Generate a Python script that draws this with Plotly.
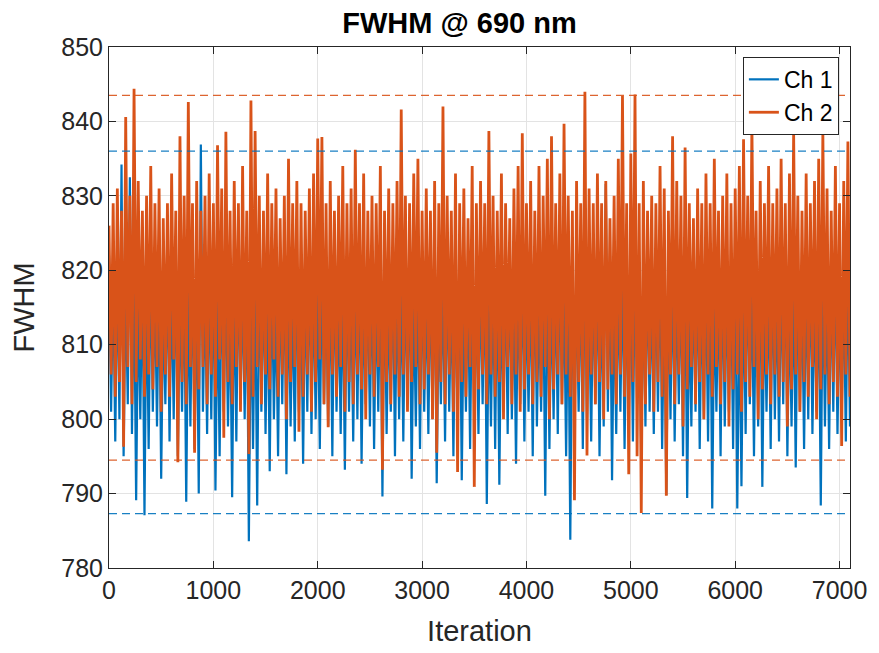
import plotly.graph_objects as go

# ---------------- data ----------------
iter_step = 20          # iterations between consecutive plotted samples
x_max = 7100

# Ch 2 (orange): local maxima (at 0, 40, 80, ...) and local minima (at 20, 60, ...)
ch2_peaks = [
    826, 829, 831, 828, 840.6, 830, 844.4, 832, 828, 830,
    834, 829, 831, 827, 829, 833, 828, 838, 830, 842.6,
    829, 832, 828, 830, 833, 829, 836.8, 831, 838.6, 828,
    832, 829, 834, 828, 842.8, 838.7, 830, 828, 833, 829,
    831, 827, 830, 835, 829, 832, 829, 828, 831, 833,
    837.7, 837.9, 829, 832, 828, 830, 834, 829, 831, 836.2,
    829, 833, 828, 830, 829, 834, 828, 831, 829, 832,
    841.6, 830, 829, 833, 835, 828, 831, 828, 832, 829,
    842, 830, 828, 833, 829, 831, 827, 834, 829, 832,
    829, 838.7, 830, 828, 833, 829, 827, 831, 834, 838.4,
    829, 832, 828, 834, 830, 835, 838, 829, 833, 839.7,
    830, 828, 832, 829, 844, 831, 829, 833, 829, 832,
    827, 830, 835, 843.4, 829, 835.7, 843.6, 829, 832, 828,
    830, 829, 834, 831, 828, 838, 832, 830, 836.5, 829,
    827, 831, 829, 833, 829, 835, 828, 830, 833, 829,
    831, 834, 837.6, 830, 839.9, 828, 832, 829, 834, 829,
    831, 835, 829, 833, 838.5, 830, 828, 833, 829, 832,
    835, 838.5, 831, 828, 834, 829, 832, 837.3,
]
ch2_troughs = [
    806, 803, 805, 796.3, 807, 802, 805, 808, 803, 806,
    804, 807, 801, 806, 803, 808, 794.2, 805, 802, 807,
    795.5, 804, 807, 802, 806, 803, 808, 797.5, 805, 802,
    807, 801, 805, 795.3, 803, 807, 802, 806, 804, 808,
    803, 806, 800, 805, 807, 798.3, 803, 806, 801, 805,
    808, 802, 798.9, 806, 803, 807, 801, 805, 802, 806,
    804, 800, 806, 803, 807, 793.2, 805, 802, 806, 803,
    806, 801, 805, 807, 802, 804, 806, 800, 795.5, 805,
    802, 806, 801, 792.9, 805, 803, 807, 790.9, 804, 806,
    802, 806, 803, 805, 800, 807, 802, 806, 801, 804,
    806, 802, 805, 803, 807, 800, 804, 806, 802, 806,
    803, 789.1, 805, 801, 795.1, 806, 802, 805, 800, 804,
    806, 802, 806, 803, 792.6, 805, 795, 787.4, 802, 806,
    801, 805, 803, 789.7, 806, 802, 806, 799, 804, 807,
    802, 805, 800, 806, 803, 807, 802, 805, 799, 804,
    806, 801, 805, 803, 807, 800, 804, 806, 802, 806,
    803, 805, 799, 804, 806, 801, 805, 803, 807, 800,
    804, 806, 802, 805, 803, 796.4, 806, 803,
]

# Ch 1 (blue)
ch1_peaks = [
    822, 819, 821, 834.2, 818, 832.5, 820, 817, 821, 819,
    822, 818, 820, 816, 821, 819, 822, 817, 820, 818,
    821, 819, 836.9, 818, 820, 822, 817, 821, 819, 816,
    820, 822, 818, 821, 817, 819, 822, 820, 818, 821,
    816, 820, 822, 819, 817, 821, 818, 820, 822, 819,
    817, 821, 818, 820, 822, 816, 819, 821, 818, 820,
    822, 817, 819, 821, 818, 820, 822, 816, 821, 819,
    818, 820, 822, 817, 819, 821, 818, 820, 822, 816,
    819, 821, 818, 820, 822, 817, 819, 821, 818, 820,
    822, 816, 819, 821, 818, 820, 822, 817, 819, 821,
    818, 820, 822, 816, 819, 821, 818, 820, 822, 817,
    819, 821, 818, 820, 822, 816, 819, 821, 818, 831.6,
    822, 817, 819, 821, 818, 820, 822, 816, 819, 821,
    818, 820, 822, 817, 819, 821, 818, 820, 822, 816,
    819, 821, 818, 820, 822, 817, 819, 821, 818, 820,
    822, 816, 819, 821, 818, 820, 822, 817, 819, 821,
    818, 820, 822, 816, 819, 821, 818, 820, 822, 817,
    819, 821, 818, 820, 822, 816, 819, 821,
]
ch1_troughs = [
    801, 797, 800, 795, 802, 798, 789.1, 800, 787.1, 796,
    801, 799, 792, 802, 797, 800, 795, 801, 788.9, 799,
    796, 790, 801, 798, 800, 790.4, 795, 801, 799, 789.5,
    797, 802, 800, 783.6, 796, 788.4, 801, 798, 793, 800,
    795, 802, 792.6, 799, 797, 801, 794, 801, 798, 800,
    796, 802, 799, 795, 801, 798, 793.2, 801, 797, 800,
    794, 802, 799, 796, 801, 789.6, 798, 801, 795, 800,
    797, 802, 792, 799, 796, 801, 798, 800, 791.4, 802,
    797, 801, 795, 799, 791.8, 801, 796, 800, 798, 802,
    788.6, 799, 796, 791.2, 801, 798, 800, 794, 802, 797,
    801, 795, 799, 801, 789.7, 796, 800, 798, 802, 795,
    783.8, 799, 801, 796, 800, 797, 802, 795, 799, 801,
    791.8, 798, 801, 796, 800, 797, 802, 795, 799, 801,
    798, 801, 796, 789.8, 800, 797, 802, 795, 789.4, 799,
    801, 796, 800, 797, 788, 801, 795, 799, 801, 796,
    788, 791, 798, 802, 795, 799, 790.9, 801, 796, 800,
    797, 802, 795, 799, 793.5, 801, 796, 800, 798, 801,
    788.4, 799, 796, 801, 798, 800, 797, 799,
]

# mean +/- 3 sigma reference levels
ch1_limits = [836.0, 787.3]
ch2_limits = [843.5, 794.5]

series_names = ["Ch 1", "Ch 2"]
series_colors = ["#0072BD", "#D95319"]

x_ticks = [0, 1000, 2000, 3000, 4000, 5000, 6000, 7000]
y_ticks = [780, 790, 800, 810, 820, 830, 840, 850]


def interleave(peaks, troughs):
    out = []
    for i, p in enumerate(peaks):
        out.append(p)
        if i < len(troughs):
            out.append(troughs[i])
    return out


ch1 = interleave(ch1_peaks, ch1_troughs)
ch2 = interleave(ch2_peaks, ch2_troughs)
x1 = [i * iter_step for i in range(len(ch1))]
x2 = [i * iter_step for i in range(len(ch2))]

FONT = "Liberation Sans, Arial, sans-serif"

fig = go.Figure()
fig.add_trace(go.Scatter(x=x1, y=ch1, mode="lines", name=series_names[0],
                         line=dict(color=series_colors[0], width=2.2, simplify=False)))
fig.add_trace(go.Scatter(x=x2, y=ch2, mode="lines", name=series_names[1],
                         line=dict(color=series_colors[1], width=2.8, simplify=False)))

for lim, col in [(ch2_limits, "rgba(217,83,25,0.9)"), (ch1_limits, "rgba(0,114,189,0.9)")]:
    for v in lim:
        fig.add_shape(type="line", xref="paper", x0=0, x1=1, yref="y", y0=v, y1=v,
                      line=dict(color=col, width=1.2, dash="8px,5px"))

axis_common = dict(
    showline=True, linecolor="#262626", linewidth=1, mirror="ticks",
    ticks="inside", ticklen=7, tickcolor="#262626", tickwidth=1,
    showgrid=True, gridcolor="#e3e3e3", gridwidth=1, zeroline=False,
    tickfont=dict(family=FONT, size=25, color="#262626"),
)

fig.update_layout(
    width=879, height=653,
    margin=dict(l=109, r=19, t=47, b=82),
    paper_bgcolor="white", plot_bgcolor="white",
    title=dict(text="<b>FWHM @ 690 nm</b>", x=0.473, xref="paper", xanchor="center",
               y=1 - 23 / 653, yref="container", yanchor="middle",
               font=dict(family=FONT, size=29, color="black")),
    xaxis=dict(range=[0, x_max], tickvals=x_ticks,
               title=dict(text="Iteration", standoff=17,
                          font=dict(family=FONT, size=29, color="#262626")),
               **axis_common),
    yaxis=dict(range=[780, 850], tickvals=y_ticks,
               title=dict(text="FWHM", standoff=18,
                          font=dict(family=FONT, size=29, color="#262626")),
               **axis_common),
    legend=dict(x=0.985, y=0.981, xanchor="right", yanchor="top",
                bgcolor="white", bordercolor="#262626", borderwidth=1,
                font=dict(family=FONT, size=23, color="black"),
                tracegroupgap=0, itemwidth=30),
    showlegend=True,
)

fig.write_html("out.html")
